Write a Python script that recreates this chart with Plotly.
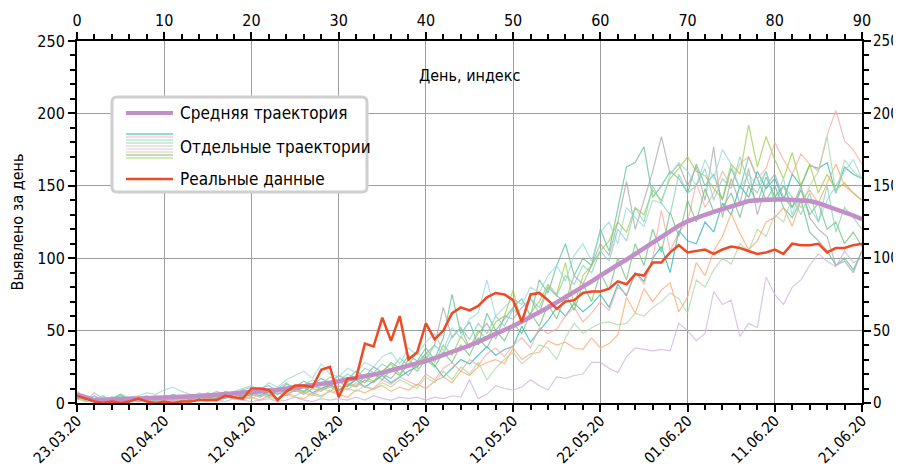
import plotly.graph_objects as go
import pandas as pd

# ---------------- data ----------------
days = list(range(91))
start_date = "2020-03-23"
tick_days = list(range(0, 91, 10))
tick_dates = [(pd.Timestamp(start_date) + pd.Timedelta(days=d)).strftime("%d.%m.%y") for d in tick_days]

real_data = [5, 3, 1, 0, 1, 0, 1, 3, 1, 0,
             1, 0, 1, 1, 2, 2, 2, 5, 4, 3,
             10, 10, 9, 2, 8, 12, 12, 11, 23, 25,
             4, 17, 17, 41, 39, 59, 43, 60, 30, 35,
             55, 44, 50, 62, 66, 64, 67, 73, 76, 75,
             71, 56, 75, 76, 71, 65, 70, 71, 76, 77,
             77, 79, 84, 82, 89, 88, 97, 97, 104, 109,
             104, 105, 106, 103, 106, 108, 107, 105, 103, 104,
             106, 103, 110, 109, 109, 110, 104, 107, 107, 109,
             110]

mean_traj = [6, 4, 2, 2, 2.2, 2.4, 2.6, 2.8, 3, 3.2,
             3.5, 3.8, 4.1, 4.4, 4.8, 5.2, 5.6, 6, 6.5, 7,
             7.5, 8, 8.6, 9.2, 9.9, 10.6, 11.4, 12.2, 13, 14,
             15, 16, 17.2, 18.4, 19.7, 21, 22.5, 24, 25.6, 27.2,
             29, 31, 33, 35, 37.3, 39.7, 42.2, 44.8, 47.5, 50.3,
             53.2, 56.2, 59.3, 62.5, 66, 69.5, 73, 76.5, 80, 84,
             88, 92, 95.5, 99, 103, 107, 111, 115, 119, 122.5,
             125.5, 128, 130, 132, 134, 135.5, 137.5, 139.5, 140, 140.5,
             140.5, 140.5, 140, 140, 139.5, 138, 136, 134, 132, 129.5,
             127]

traj_teal = [6, 3, 1, 2, 4, 2, 1, 3, 2, 3,
             2, 4, 3, 5, 3, 6, 4, 3, 6, 5,
             7, 5, 8, 6, 9, 8, 11, 7, 10, 13,
             9, 12, 16, 11, 15, 19, 14, 18, 22, 25,
             32, 26, 18, 24, 30, 27, 33, 39, 33, 37,
             39, 53, 42, 50, 57, 66, 60, 69, 63, 68,
             75, 66, 82, 74, 90, 84, 100, 108, 90, 119,
             112, 110, 125, 118, 138, 130, 150, 142, 160, 148,
             155, 140, 158, 150, 164, 162, 166, 145, 163, 158,
             155]
traj_seafoam = [4, 2, 5, 1, 3, 6, 2, 4, 3, 5,
                3, 6, 4, 2, 5, 7, 4, 8, 6, 9,
                7, 10, 12, 8, 13, 11, 15, 12, 17, 14,
                19, 16, 22, 18, 25, 21, 28, 24, 33, 29,
                38, 30, 45, 75, 48, 56, 40, 62, 50, 58,
                66, 72, 60, 85, 76, 95, 110, 88, 100, 95,
                120, 105, 135, 163, 166, 177, 142, 150, 160, 155,
                145, 165, 150, 158, 140, 162, 148, 170, 155, 140,
                150, 135, 128, 140, 118, 112, 105, 95, 100, 92,
                105]
traj_lime = [3, 1, 2, 4, 1, 3, 2, 1, 3, 2,
             4, 2, 3, 5, 2, 4, 3, 6, 4, 8,
             5, 9, 6, 3, 8, 10, 7, 12, 9, 11,
             8, 14, 12, 18, 15, 22, 27, 20, 30, 24,
             35, 28, 40, 33, 46, 38, 50, 44, 56, 60,
             78, 55, 62, 70, 82, 75, 97, 67, 88, 95,
             105, 112, 125, 118, 135, 130, 147, 140, 155, 162,
             170, 160, 157, 148, 141, 165, 158, 192, 163, 184,
             168, 155, 173, 150, 165, 145, 158, 147, 152, 145,
             140]
traj_gray = [5, 3, 2, 1, 4, 2, 3, 1, 2, 4,
             3, 2, 4, 3, 5, 2, 6, 4, 3, 5,
             6, 4, 8, 7, 5, 9, 6, 10, 8, 12,
             9, 13, 11, 16, 14, 20, 17, 24, 19, 28,
             34, 40, 66, 45, 52, 38, 48, 55, 44, 60,
             58, 66, 72, 62, 80, 74, 70, 88, 82, 95,
             110, 102, 125, 153, 120, 140, 160, 184, 158, 165,
             150, 163, 140, 177, 128, 155, 138, 162, 130, 150,
             158, 142, 135, 150, 128, 120, 115, 95, 98, 90,
             105]
traj_cyan = [3, 5, 2, 4, 3, 6, 4, 5, 7, 6,
             9, 11, 8, 6, 5, 7, 4, 6, 8, 10,
             12, 9, 14, 11, 16, 19, 22, 17, 27, 20,
             18, 24, 21, 28, 25, 32, 35, 27, 38, 33,
             42, 48, 36, 52, 45, 58, 62, 85, 60, 66,
             72, 68, 80, 76, 88, 95, 84, 102, 110, 98,
             118, 125, 110, 135, 128, 122, 140, 138, 158, 166,
             160, 150, 168, 155, 175, 165, 148, 158, 150, 160,
             142, 155, 130, 148, 135, 125, 140, 150, 160, 168,
             155]
traj_pink = [2, 4, 1, 3, 2, 1, 3, 2, 4, 1,
             3, 2, 4, 2, 5, 3, 2, 4, 6, 3,
             5, 7, 4, 8, 6, 9, 7, 5, 10, 8,
             12, 9, 14, 11, 10, 16, 13, 18, 15, 12,
             20, 16, 24, 28, 22, 30, 26, 34, 38, 32,
             40, 45, 38, 52, 48, 51, 60, 66, 56, 62,
             70, 64, 80, 75, 90, 82, 100, 133, 105, 118,
             125, 152, 135, 145, 160, 150, 165, 170, 155, 162,
             180, 168, 158, 172, 165, 160, 185, 202, 181, 175,
             165]
traj_orange = [8, 3, 1, 2, 4, 1, 2, 3, 1, 2,
               3, 1, 2, 4, 2, 3, 1, 5, 3, 2,
               4, 2, 5, 3, 6, 4, 3, 7, 5, 8,
               6, 4, 9, 7, 10, 12, 8, 11, 9, 13,
               10, 15, 18, 14, 22, 19, 25, 28, 30, 27,
               38, 30, 34, 35, 43, 40, 42, 38, 37, 45,
               38, 41, 47, 73, 62, 79, 70, 78, 83, 63,
               73, 97, 88, 105, 115, 131, 117, 106, 112, 125,
               128, 135, 122, 140, 147, 138, 152, 165, 150, 145,
               140]
traj_purple = [4, 2, 7, 3, 1, 2, 1, 3, 1, 2,
               1, 2, 1, 3, 2, 1, 2, 1, 3, 2,
               1, 2, 3, 1, 2, 4, 2, 1, 3, 2,
               3, 2, 4, 2, 5, 3, 2, 4, 3, 4,
               2, 4, 3, 5, 4, 16, 3, 6, 12, 10,
               9, 11, 16, 12, 9, 18, 17, 19, 20, 28,
               28, 24, 21, 32, 38, 37, 36, 37, 36, 55,
               50, 43, 48, 77, 68, 71, 46, 55, 52, 87,
               75, 68, 80, 85, 95, 103, 98, 94, 105, 97,
               100]
traj_palegreen = [5, 3, 1, 2, 3, 1, 2, 4, 2, 1,
                  2, 3, 1, 2, 4, 3, 2, 5, 3, 4,
                  3, 6, 4, 2, 7, 5, 8, 6, 4, 9,
                  7, 10, 8, 12, 9, 14, 11, 16, 13, 10,
                  18, 14, 22, 16, 25, 20, 28, 16, 24, 30,
                  35, 27, 32, 40, 38, 30, 45, 55, 48, 52,
                  55, 56, 54, 55, 62, 60, 66, 70, 76, 72,
                  62, 85, 80, 92, 100, 96, 110, 105, 120, 115,
                  130, 125, 142, 135, 150, 160, 184, 145, 168, 160,
                  155]
traj_green = [3, 4, 2, 1, 3, 5, 2, 4, 3, 2,
              4, 3, 5, 2, 6, 4, 3, 5, 7, 4,
              6, 8, 5, 9, 7, 11, 8, 13, 10, 12,
              15, 11, 17, 14, 20, 16, 23, 19, 27, 22,
              30, 25, 35, 28, 40, 33, 45, 38, 50, 43,
              55, 48, 62, 53, 68, 58, 75, 64, 82, 70,
              90, 78, 100, 85, 110, 95, 120, 104, 132, 115,
              140, 125, 148, 132, 135, 145, 128, 150, 138, 156,
              142, 150, 135, 147, 130, 138, 120, 125, 110, 118,
              108]
traj_lightsea = [4, 2, 3, 5, 2, 4, 1, 3, 5, 2,
                 3, 5, 2, 4, 7, 5, 8, 6, 4, 9,
                 11, 8, 6, 10, 14, 9, 12, 16, 13, 18,
                 15, 20, 17, 24, 21, 27, 23, 31, 26, 35,
                 30, 40, 34, 46, 52, 44, 55, 48, 60, 53,
                 65, 58, 72, 66, 80, 74, 88, 82, 95, 90,
                 105, 98, 120, 112, 135, 125, 150, 138, 130, 158,
                 145, 150, 162, 140, 155, 148, 170, 152, 145, 160,
                 138, 150, 142, 130, 145, 125, 150, 118, 135, 128,
                 120]

trajectories = [traj_teal, traj_seafoam, traj_lime, traj_gray, traj_cyan, traj_pink,
                traj_orange, traj_purple, traj_palegreen, traj_green, traj_lightsea]
traj_colors = ["#26b3b8", "#5cbf9b", "#9ccf45", "#a8a8a8", "#98d8d8", "#f8a9a0",
               "#fca66a", "#cdb3df", "#a8d9a2", "#6cc080", "#86d0b8"]
legend_strip_colors = ["#26b3b8", "#f8b4ae", "#98d8d8", "#a8d9a2", "#c8c8c8",
                       "#d8c4e6", "#fcc08e", "#6cc080", "#a6d96a"]

legend_labels = ["Средняя траектория", "Отдельные траектории", "Реальные данные"]
mean_color = "#c28fc9"
real_color = "#ef4a25"
FONT = "Liberation Sans Narrow, Arial Narrow, DejaVu Sans Condensed, sans-serif"

# ---------------- figure ----------------
fig = go.Figure()
for vals, col in zip(trajectories, traj_colors):
    fig.add_trace(go.Scatter(x=days, y=vals, mode="lines",
                             line=dict(color=col, width=1.2), opacity=0.75,
                             showlegend=False, hoverinfo="skip"))
fig.add_trace(go.Scatter(x=days, y=mean_traj, mode="lines",
                         line=dict(color=mean_color, width=4.5), showlegend=False))
fig.add_trace(go.Scatter(x=days, y=real_data, mode="lines", xaxis="x2", yaxis="y2",
                         line=dict(color=real_color, width=2.5), showlegend=False))

# the page body has an 8px margin: the figure starts at (8, 8) in the window
OFF = 8
W, H = 901 - OFF, 473 - OFF
PX0, PX1, PY0, PY1 = 77, 862, 41, 403   # plot area in window pixels
L, R, T, B = PX0 - OFF, W + OFF - PX1, PY0 - OFF, H + OFF - PY1
pw, ph = PX1 - PX0, PY1 - PY0


def px(xp):
    return (xp - PX0) / pw


def py(yp):
    return (PY1 - yp) / ph


axis_common = dict(showline=True, linecolor="black", linewidth=2, ticks="outside",
                   ticklen=7, tickwidth=1.5, tickcolor="black", zeroline=False,
                   automargin=False)
minor_x = dict(dtick=2, ticks="outside", ticklen=5, tickwidth=1.5, tickcolor="black", showgrid=False)
minor_y = dict(dtick=10, ticks="outside", ticklen=5, tickwidth=1.5, tickcolor="black", showgrid=False)
tf = dict(family=FONT, size=16, color="black")

fig.update_layout(
    width=W, height=H,
    margin=dict(l=L, r=R, t=T, b=B, autoexpand=False),
    plot_bgcolor="white", paper_bgcolor="white",
    font=dict(family=FONT, size=16, color="black"),
    xaxis=dict(range=[0, 90], tickvals=tick_days, ticktext=tick_dates, tickangle=-45,
               tickfont=dict(family=FONT, size=15, color="black"), ticklabelstandoff=-6,
               showgrid=True, gridcolor="#9e9e9e", gridwidth=1, minor=minor_x, **axis_common),
    xaxis2=dict(range=[0, 90], overlaying="x", side="top", matches="x", tickfont=tf,
                tickvals=tick_days, showgrid=False, minor=minor_x, **axis_common),
    yaxis=dict(range=[0, 250], dtick=50, showgrid=True, gridcolor="#9e9e9e", gridwidth=1,
               tickfont=tf,
               title=dict(text="Выявлено за день", font=dict(family=FONT, size=16), standoff=12),
               minor=minor_y, **axis_common),
    yaxis2=dict(range=[0, 250], dtick=50, overlaying="y", side="right", matches="y",
                tickfont=dict(family=FONT, size=15, color="black"), ticklabelstandoff=-1,
                showgrid=False, minor=minor_y, **axis_common),
    showlegend=False,
)

fig.add_annotation(text="День, индекс", xref="paper", yref="paper", x=0.5, y=py(64),
                   showarrow=False, font=dict(family=FONT, size=16, color="black"))

# ---------------- custom legend ----------------
bx0, bx1, by0, by1 = 112, 367, 97, 192
r = 5
x0, x1 = px(bx0), px(bx1)
y0, y1 = py(by0), py(by1)
rx, ry = r / pw, r / ph
path = (f"M {x0+rx},{y0} L {x1-rx},{y0} Q {x1},{y0} {x1},{y0-ry} "
        f"L {x1},{y1+ry} Q {x1},{y1} {x1-rx},{y1} L {x0+rx},{y1} "
        f"Q {x0},{y1} {x0},{y1+ry} L {x0},{y0-ry} Q {x0},{y0} {x0+rx},{y0} Z")
fig.add_shape(type="path", path=path, xref="paper", yref="paper",
              line=dict(color="#cfcfcf", width=3), fillcolor="white", layer="above")

lx0, lx1 = px(126), px(173)
fig.add_shape(type="line", xref="paper", yref="paper", x0=lx0, x1=lx1, y0=py(113), y1=py(113),
              line=dict(color=mean_color, width=4), layer="above")
for i, col in enumerate(legend_strip_colors):
    yy = py(134 + i * 3)
    fig.add_shape(type="line", xref="paper", yref="paper", x0=lx0, x1=lx1, y0=yy, y1=yy,
                  line=dict(color=col, width=1), layer="above")
fig.add_shape(type="line", xref="paper", yref="paper", x0=lx0, x1=lx1, y0=py(179), y1=py(179),
              line=dict(color=real_color, width=2.5), layer="above")
for lab, yp in zip(legend_labels, [113, 147, 179]):
    fig.add_annotation(text=lab, xref="paper", yref="paper", x=px(178), y=py(yp),
                       xanchor="left", yanchor="middle", showarrow=False,
                       font=dict(family=FONT, size=17, color="black"))

fig.write_html("out.html")
